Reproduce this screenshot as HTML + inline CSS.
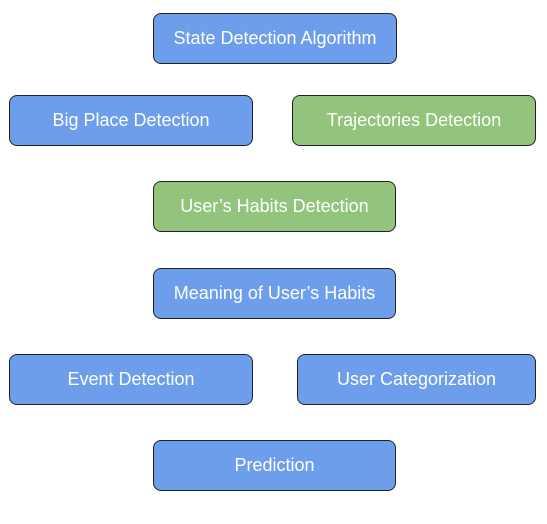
<!DOCTYPE html>
<html><head><style>
body{margin:0;width:547px;height:524px;background:#fff;position:relative;font-family:"Liberation Sans",sans-serif;}
.b{position:absolute;box-sizing:border-box;border:1px solid #222;border-radius:8px;color:#fff;font-size:18px;display:flex;align-items:center;justify-content:center;height:51px;}
.bl{background:#6d9eeb}.gr{background:#93c47d}
</style></head><body>
<div class="b bl" style="left:153px;top:13px;width:244px">State Detection Algorithm</div>
<div class="b bl" style="left:9px;top:95px;width:244px">Big Place Detection</div>
<div class="b gr" style="left:292px;top:95px;width:244px">Trajectories Detection</div>
<div class="b gr" style="left:153px;top:181px;width:243px">User’s Habits Detection</div>
<div class="b bl" style="left:153px;top:268px;width:243px">Meaning of User’s Habits</div>
<div class="b bl" style="left:9px;top:354px;width:244px">Event Detection</div>
<div class="b bl" style="left:297px;top:354px;width:239px">User Categorization</div>
<div class="b bl" style="left:153px;top:440px;width:243px">Prediction</div>
</body></html>
